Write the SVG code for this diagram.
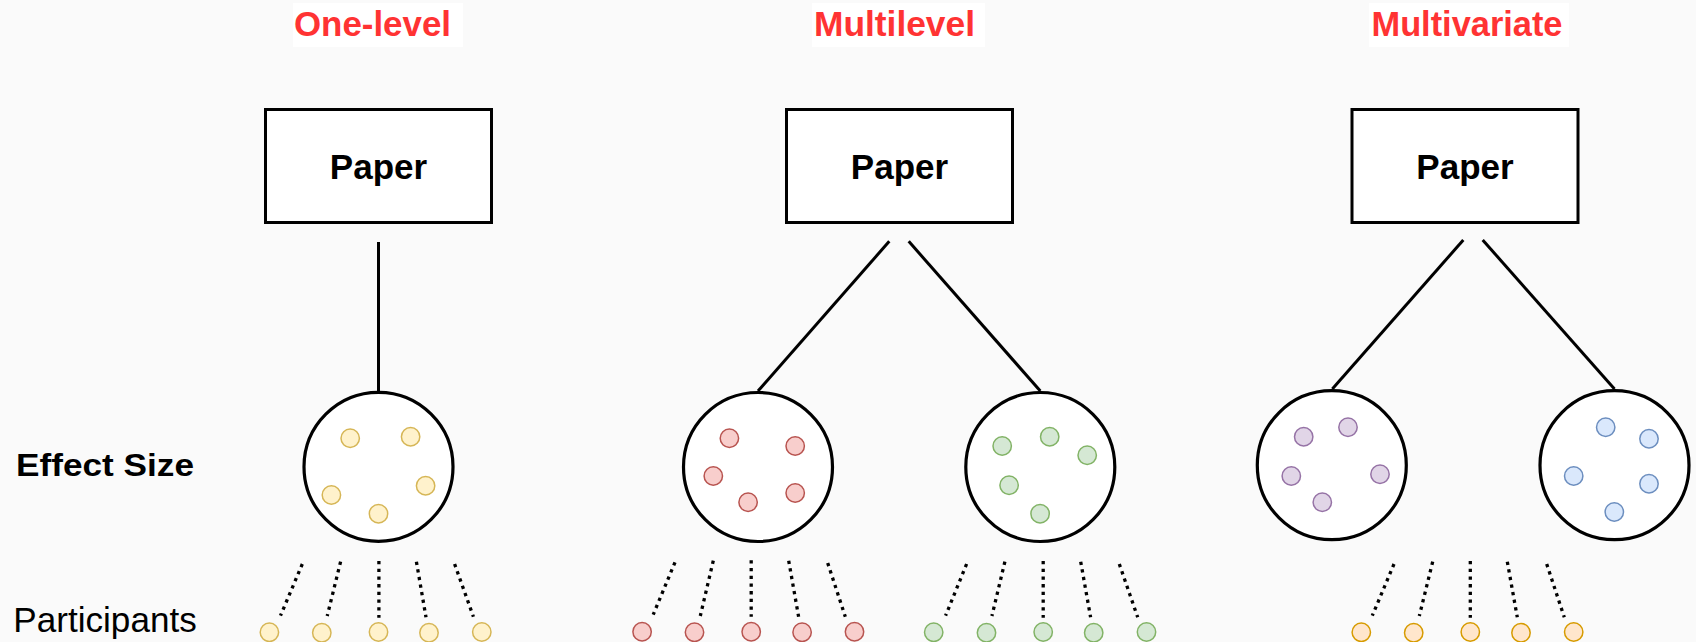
<svg xmlns="http://www.w3.org/2000/svg" width="1696" height="642" viewBox="0 0 1696 642">
<style>
.title{font-family:"Liberation Sans",Arial,sans-serif;font-weight:bold;font-size:34.5px;fill:#ff3333}
.paper{font-family:"Liberation Sans",Arial,sans-serif;font-weight:bold;font-size:35px;fill:#000}
.lbl{font-family:"Liberation Sans",Arial,sans-serif;font-size:35px;fill:#000}
.box{fill:#fff;stroke:#000;stroke-width:3}
.es{fill:#fff;stroke:#000;stroke-width:3.2}
.link{stroke:#000;stroke-width:3;fill:none}
.dot{stroke:#000;stroke-width:3.3;stroke-dasharray:3.3 4.4;fill:none}
.y{fill:#fff2cc;stroke:#d6b656;stroke-width:1.5}
.r{fill:#f8cecc;stroke:#b85450;stroke-width:1.5}
.g{fill:#d5e8d4;stroke:#82b366;stroke-width:1.5}
.p{fill:#e1d5e7;stroke:#9673a6;stroke-width:1.5}
.b{fill:#dae8fc;stroke:#6c8ebf;stroke-width:1.5}
.o{fill:#ffe6cc;stroke:#d79b00;stroke-width:1.5}
</style>
<rect width="1696" height="642" fill="#fafafa"/>

<g id="titles">
<rect x="293" y="3" width="170" height="44" fill="#fff"/>
<text class="title" x="294" y="35.5" textLength="157" lengthAdjust="spacingAndGlyphs">One-level</text>
<rect x="812" y="3" width="173" height="44" fill="#fff"/>
<text class="title" x="814" y="35.5" textLength="161" lengthAdjust="spacingAndGlyphs">Multilevel</text>
<rect x="1369" y="3" width="200" height="44" fill="#fff"/>
<text class="title" x="1371.5" y="35.5" textLength="191" lengthAdjust="spacingAndGlyphs">Multivariate</text>
</g>

<g id="row-labels">
<text id="effect-size-label" class="paper" style="font-size:32px" x="16" y="475.7" textLength="178" lengthAdjust="spacingAndGlyphs">Effect Size</text>
<text id="participants-label" class="lbl" x="13.3" y="632.3" textLength="183.5" lengthAdjust="spacingAndGlyphs">Participants</text>
</g>

<g id="connectors">
<line class="link" x1="378.5" y1="242" x2="378.5" y2="391"/>
<line class="link" x1="889.3" y1="241.3" x2="758" y2="391"/>
<line class="link" x1="908.7" y1="241.3" x2="1040.3" y2="391"/>
<line class="link" x1="1463.3" y1="240" x2="1332.3" y2="389"/>
<line class="link" x1="1482.7" y1="240" x2="1614.5" y2="389"/>

<line class="dot" x1="302.3" y1="564" x2="280.5" y2="615.7"/>
<line class="dot" x1="340.6" y1="561.7" x2="327.2" y2="616"/>
<line class="dot" x1="378.9" y1="561" x2="378.9" y2="617.7"/>
<line class="dot" x1="416.4" y1="561.7" x2="426" y2="617.3"/>
<line class="dot" x1="454.6" y1="564" x2="473.4" y2="616.7"/>

<line class="dot" x1="675" y1="562.3" x2="653.2" y2="614.7"/>
<line class="dot" x1="713.3" y1="560.7" x2="700.3" y2="616"/>
<line class="dot" x1="751.2" y1="560.3" x2="751.2" y2="616.7"/>
<line class="dot" x1="788.7" y1="560.7" x2="798.6" y2="616.7"/>
<line class="dot" x1="827.7" y1="563" x2="845.3" y2="616.7"/>

<line class="dot" x1="966.6" y1="564" x2="945.6" y2="615.7"/>
<line class="dot" x1="1004.9" y1="561.7" x2="991.9" y2="616"/>
<line class="dot" x1="1043.2" y1="561" x2="1043.2" y2="617.7"/>
<line class="dot" x1="1080.7" y1="561.7" x2="1090.6" y2="617.3"/>
<line class="dot" x1="1119.3" y1="564" x2="1137.7" y2="617.3"/>

<line class="dot" x1="1394" y1="564" x2="1372.3" y2="615.7"/>
<line class="dot" x1="1432.7" y1="561.7" x2="1419.3" y2="616"/>
<line class="dot" x1="1470.3" y1="561" x2="1470.3" y2="617.7"/>
<line class="dot" x1="1507.3" y1="561.7" x2="1517.3" y2="617.3"/>
<line class="dot" x1="1546.7" y1="564" x2="1564.3" y2="617.3"/>
</g>

<g id="paper-one-level">
<rect class="box" x="265.5" y="109.5" width="226" height="113"/>
<text class="paper" x="378.5" y="179" text-anchor="middle">Paper</text>
</g>
<g id="paper-multilevel">
<rect class="box" x="786.5" y="109.5" width="226" height="113"/>
<text class="paper" x="899.5" y="179" text-anchor="middle">Paper</text>
</g>
<g id="paper-multivariate">
<rect class="box" x="1352" y="109.5" width="226" height="113"/>
<text class="paper" x="1465" y="179" text-anchor="middle">Paper</text>
</g>

<g id="es-one-level">
<circle class="es" cx="378.5" cy="466.8" r="74.5"/>
<circle class="y" cx="350.2" cy="438.3" r="9.2"/>
<circle class="y" cx="410.6" cy="436.7" r="9.2"/>
<circle class="y" cx="331.4" cy="495" r="9.2"/>
<circle class="y" cx="425.6" cy="485.7" r="9.2"/>
<circle class="y" cx="378.5" cy="513.7" r="9.2"/>
</g>
<g id="es-multilevel-1">
<circle class="es" cx="758" cy="467" r="74.5"/>
<circle class="r" cx="729.4" cy="438.3" r="9.2"/>
<circle class="r" cx="795.2" cy="446" r="9.2"/>
<circle class="r" cx="713.3" cy="476" r="9.2"/>
<circle class="r" cx="795.2" cy="493" r="9.2"/>
<circle class="r" cx="748.1" cy="502.3" r="9.2"/>
</g>
<g id="es-multilevel-2">
<circle class="es" cx="1040.3" cy="467" r="74.5"/>
<circle class="g" cx="1002.2" cy="446" r="9.2"/>
<circle class="g" cx="1049.7" cy="436.7" r="9.2"/>
<circle class="g" cx="1087.2" cy="455.3" r="9.2"/>
<circle class="g" cx="1009.1" cy="485.3" r="9.2"/>
<circle class="g" cx="1040.1" cy="513.7" r="9.2"/>
</g>
<g id="es-multivariate-1">
<circle class="es" cx="1331.8" cy="465.2" r="74.5"/>
<circle class="p" cx="1303.7" cy="436.7" r="9.2"/>
<circle class="p" cx="1348" cy="427.3" r="9.2"/>
<circle class="p" cx="1291.3" cy="476" r="9.2"/>
<circle class="p" cx="1380" cy="474.3" r="9.2"/>
<circle class="p" cx="1322.3" cy="502.3" r="9.2"/>
</g>
<g id="es-multivariate-2">
<circle class="es" cx="1614.5" cy="465.2" r="74.5"/>
<circle class="b" cx="1605.7" cy="427.3" r="9.2"/>
<circle class="b" cx="1649" cy="438.7" r="9.2"/>
<circle class="b" cx="1573.7" cy="476" r="9.2"/>
<circle class="b" cx="1649" cy="483.7" r="9.2"/>
<circle class="b" cx="1614.3" cy="512" r="9.2"/>
</g>

<g id="participants-one-level">
<circle class="y" cx="269.4" cy="632.3" r="9.2"/>
<circle class="y" cx="321.8" cy="632.7" r="9.2"/>
<circle class="y" cx="378.5" cy="632" r="9.2"/>
<circle class="y" cx="429" cy="632.7" r="9.2"/>
<circle class="y" cx="481.8" cy="632" r="9.2"/>
</g>
<g id="participants-multilevel-1">
<circle class="r" cx="642.1" cy="631.7" r="9.2"/>
<circle class="r" cx="694.5" cy="632.3" r="9.2"/>
<circle class="r" cx="751.2" cy="631.7" r="9.2"/>
<circle class="r" cx="802.1" cy="632.3" r="9.2"/>
<circle class="r" cx="854.5" cy="631.7" r="9.2"/>
</g>
<g id="participants-multilevel-2">
<circle class="g" cx="933.7" cy="632.3" r="9.2"/>
<circle class="g" cx="986.5" cy="632.7" r="9.2"/>
<circle class="g" cx="1043.2" cy="632" r="9.2"/>
<circle class="g" cx="1093.7" cy="632.7" r="9.2"/>
<circle class="g" cx="1146.5" cy="632" r="9.2"/>
</g>
<g id="participants-multivariate">
<circle class="o" cx="1361.3" cy="632.3" r="9.2"/>
<circle class="o" cx="1413.7" cy="632.7" r="9.2"/>
<circle class="o" cx="1470.3" cy="632" r="9.2"/>
<circle class="o" cx="1521" cy="632.7" r="9.2"/>
<circle class="o" cx="1573.7" cy="632" r="9.2"/>
</g>
</svg>
